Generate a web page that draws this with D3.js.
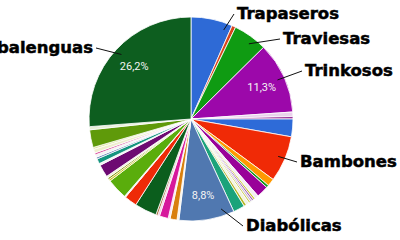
<!DOCTYPE html>
<html>
<head>
<meta charset="utf-8">
<script src="https://cdn.jsdelivr.net/npm/d3@7"></script>
<style>
  body { margin: 0; background: #fff; }
  svg { display: block; }
</style>
</head>
<body>
<svg id="chart" width="400" height="240"></svg>
<script>
// slices, clockwise from 12 o'clock (percent of total)
const names = [
  "Trapaseros", "", "Traviesas", "Trinkosos", "", "", "", "Bambones", "", "", "",
  "", "", "", "", "", "", "", "", "Diabólicas", "", "",
  "", "", "", "", "", "", "", "", "", "", "",
  "", "", "", "", "", "", "", "", "", "", "Trabalenguas"
];
const values = [
  6.6, 0.6, 5.4, 11.3, 0.7, 0.4, 2.8, 7.3, 1.2, 0.4, 1.9,
  0.6, 0.3, 0.3, 0.3, 0.3, 0.5, 0.4, 1.8, 8.8, 0.3, 1.1,
  0.3, 1.4, 0.3, 0.3, 3.5, 2.0, 0.2, 3.3, 0.3, 0.3, 0.3,
  2.0, 0.3, 0.8, 0.3, 0.4, 0.3, 0.6, 0.3, 2.8, 0.5, 26.2
];

const colors = [
  "#2e6ad6", "#d8451c", "#0f9b12", "#9c08aa", "#e9d2ec", "#993399", "#2e6bd8", "#f02a06", "#ff9900", "#109618", "#990099",
  "#f4eef4", "#c8c830", "#a060b0", "#c6b6d6", "#cccc55", "#f2f2e2", "#b5b520", "#1ba37a", "#5078b0", "#f5efe0", "#d9800e",
  "#f6e6ee", "#d6189c", "#f0c0e0", "#a0622d", "#0b5e1d", "#ee2a08", "#f0f0f0", "#5aad0c", "#c9c419", "#8a9a10", "#eef2d8",
  "#6d0a72", "#f0f0f0", "#15957f", "#6a86b8", "#f2f2f2", "#d84a9a", "#efefcf", "#dde29a", "#5f9a0a", "#e8f0d8", "#0d5e1f"
];

// label placement: x, baseline, anchor, where along the slice the leader starts
const labelPos = {
  "Trapaseros": [237, 19, "start", 0.85],
  "Traviesas": [283, 44, "start", 0.6],
  "Trinkosos": [305, 76, "start", 0.5],
  "Bambones": [300, 167, "start", 0.5],
  "Diabólicas": [246, 231, "start", 0.2],
  "Trabalenguas": [93, 53, "end", 0.5]
};

const cx = 191, cy = 119, R = 102;
const svg = d3.select("#chart");
const g = svg.append("g").attr("transform", `translate(${cx},${cy})`);

const total = d3.sum(values);
const pie = d3.pie().sort(null).value(d => d);
const arcs = pie(values);
const arc = d3.arc().innerRadius(0).outerRadius(R);
const labelArc = d3.arc().innerRadius(R * 0.76).outerRadius(R * 0.76);
const locale = d3.formatLocale({ decimal: ",", thousands: ".", grouping: [3], currency: ["", "€"] });
const pct = locale.format(".1f");

g.selectAll("path.slice")
  .data(arcs)
  .enter().append("path")
  .attr("class", "slice")
  .attr("d", arc)
  .style("fill", (d, i) => colors[i])
  .style("stroke", "#fff")
  .style("stroke-width", 0.8);

g.selectAll("text.pct")
  .data(arcs.filter(d => d.value / total >= 0.08))
  .enter().append("text")
  .attr("class", "pct")
  .attr("transform", d => `translate(${labelArc.centroid(d)})`)
  .attr("text-anchor", "middle")
  .attr("dy", "0.35em")
  .style("font-family", "Roboto, sans-serif")
  .style("font-size", "11px")
  .style("fill", "#f4f4f4")
  .text(d => pct(d.value / total * 100) + "%");

// leaders and names
arcs.forEach((d, i) => {
  const name = names[i];
  if (!name || !labelPos[name]) return;
  const [tx, ty, anchor, at] = labelPos[name];
  const a = d.startAngle + (d.endAngle - d.startAngle) * at;
  const x0 = cx + Math.sin(a) * R * 0.93;
  const y0 = cy - Math.cos(a) * R * 0.93;
  const x1 = anchor === "start" ? tx - 3 : tx + 3;
  const y1 = ty - 5;
  svg.append("line")
    .attr("x1", x0).attr("y1", y0)
    .attr("x2", x1).attr("y2", y1)
    .style("stroke", "#111")
    .style("stroke-width", 1);
  svg.append("text")
    .attr("x", tx).attr("y", ty)
    .attr("text-anchor", anchor)
    .style("font-family", "'DejaVu Sans', sans-serif")
    .style("font-weight", "bold")
    .style("font-size", "16.5px")
    .style("fill", "#000")
    .style("stroke", "#000")
    .style("stroke-width", 0.5)
    .text(name);
});
</script>
</body>
</html>
